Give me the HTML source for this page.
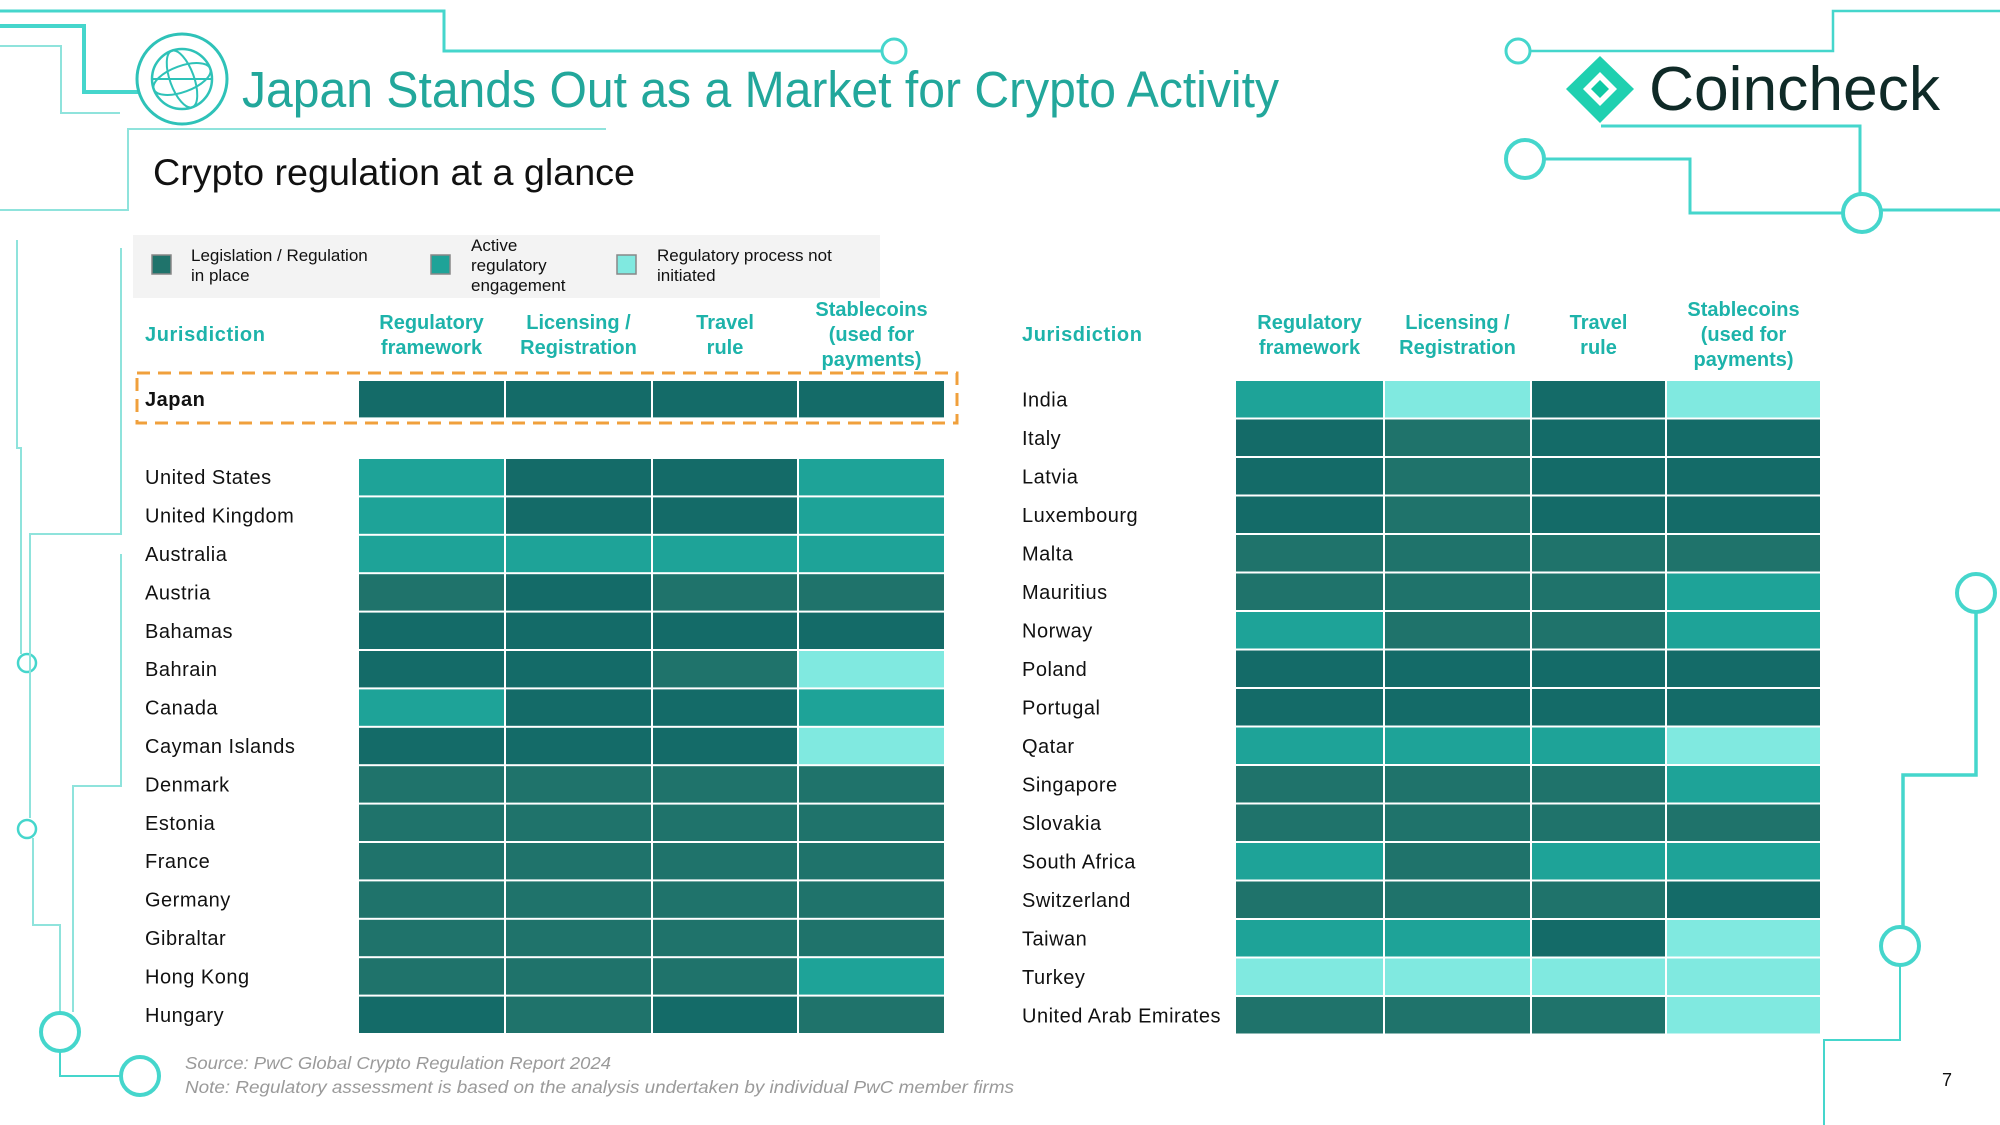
<!DOCTYPE html>
<html><head><meta charset="utf-8"><style>
html,body{margin:0;padding:0;background:#fff;}
svg{display:block;font-family:"Liberation Sans",sans-serif;}
</style></head><body>
<svg id="root" width="2000" height="1125" viewBox="0 0 2000 1125" xmlns="http://www.w3.org/2000/svg">
<g fill="none" stroke="#45d6cc" stroke-width="3">
  <polyline points="0,11 444,11 444,51 882,51"/>
  <circle cx="894" cy="51" r="12" fill="#fff"/>
  <polyline points="0,26 84,26 84,92 138,92" stroke-width="4"/>
  <polyline points="0,46 61,46 61,113 120,113" stroke="#8fe3dc" stroke-width="2"/>
  <polyline points="606,129 128,129 128,210 0,210" stroke="#8fe3dc" stroke-width="2"/>
  <polyline points="17,240 17,448 21,448 21,654" stroke="#8fe3dc" stroke-width="2"/>
  <circle cx="27" cy="663" r="9" fill="#fff" stroke-width="2.5"/>
  <polyline points="121,248 121,534 30,534 30,818" stroke="#8fe3dc" stroke-width="2"/>
  <circle cx="27" cy="829" r="9" fill="#fff" stroke-width="2.5"/>
  <polyline points="33,838 33,925 60,925 60,1012" stroke="#8fe3dc" stroke-width="2"/>
  <polyline points="121,554 121,786 73,786 73,1012" stroke="#8fe3dc" stroke-width="2"/>
  <circle cx="60" cy="1032" r="19" fill="#fff" stroke-width="4"/>
  <polyline points="60,1051 60,1076 121,1076" stroke-width="2"/>
  <circle cx="140" cy="1076" r="19" fill="#fff" stroke-width="4"/>
  <polyline points="1530,51 1833,51 1833,11 2000,11" stroke-width="2.5"/>
  <circle cx="1518" cy="51" r="12" fill="#fff" stroke-width="3"/>
  <polyline points="1601,126 1860,126 1860,194" stroke-width="3"/>
  <circle cx="1862" cy="213" r="19" fill="#fff" stroke-width="4"/>
  <polyline points="1881,210 2000,210" stroke-width="3"/>
  <polyline points="1544,159 1690,159 1690,213 1843,213" stroke-width="3"/>
  <circle cx="1525" cy="159" r="19" fill="#fff" stroke-width="4"/>
  <circle cx="1976" cy="593" r="19" fill="#fff" stroke-width="4"/>
  <polyline points="1976,612 1976,775 1903,775 1903,927" stroke-width="3.5"/>
  <circle cx="1900" cy="946" r="19" fill="#fff" stroke-width="4"/>
  <polyline points="1900,965 1900,1040 1824,1040 1824,1125" stroke-width="2"/>
</g>
<g fill="none" stroke="#2ec2b8" stroke-width="3">
  <circle cx="182" cy="79" r="45"/>
  <circle cx="182" cy="79" r="30" stroke-width="2.5"/>
  <ellipse cx="182" cy="79" rx="30" ry="13" transform="rotate(-20 182 79)" stroke-width="2"/>
  <ellipse cx="182" cy="79" rx="12" ry="30" transform="rotate(-20 182 79)" stroke-width="2"/>
  <line x1="152" y1="79" x2="212" y2="79" stroke-width="2"/>
</g>
<text x="242" y="107" font-size="51" fill="#22a79b" textLength="1037" lengthAdjust="spacingAndGlyphs">Japan Stands Out as a Market for Crypto Activity</text>
<text x="153" y="185" font-size="37" fill="#111" textLength="482" lengthAdjust="spacingAndGlyphs">Crypto regulation at a glance</text>
<g>
  <polygon points="1600,56 1634,89 1600,123 1566,89" fill="#1fd0b0"/>
  <polygon points="1600,72 1617,89 1600,106 1583,89" fill="#fff"/>
  <polygon points="1600,80 1609,89 1600,98 1591,89" fill="#0fc9a5"/>
  <text x="1649" y="110" font-size="62" fill="#0f2a27" textLength="291" lengthAdjust="spacingAndGlyphs">Coincheck</text>
</g>
<g>
  <rect x="133" y="235" width="747" height="63" fill="#f3f3f3"/>
  <g>
    <rect x="152" y="255" width="19" height="19" fill="#1f736b" stroke="#888" stroke-width="1.5"/>
    <text x="191" y="261" font-size="17" fill="#111">Legislation / Regulation</text>
    <text x="191" y="281" font-size="17" fill="#111">in place</text>
  </g>
  <g>
    <rect x="431" y="255" width="19" height="19" fill="#1ea398" stroke="#888" stroke-width="1.5"/>
    <text x="471" y="251" font-size="17" fill="#111">Active</text>
    <text x="471" y="271" font-size="17" fill="#111">regulatory</text>
    <text x="471" y="291" font-size="17" fill="#111">engagement</text>
  </g>
  <g>
    <rect x="617" y="255" width="19" height="19" fill="#80e9e0" stroke="#888" stroke-width="1.5"/>
    <text x="657" y="261" font-size="17" fill="#111">Regulatory process not</text>
    <text x="657" y="281" font-size="17" fill="#111">initiated</text>
  </g>
</g>
<rect x="137" y="373" width="820" height="50" fill="none" stroke="#f0a03c" stroke-width="3" stroke-dasharray="13,8"/>
<g id="tables"></g>
<text x="185" y="1069" font-size="17.5" font-style="italic" fill="#9a9a9a" textLength="426" lengthAdjust="spacingAndGlyphs">Source: PwC Global Crypto Regulation Report 2024</text>
<text x="185" y="1093" font-size="17.5" font-style="italic" fill="#9a9a9a" textLength="829" lengthAdjust="spacingAndGlyphs">Note: Regulatory assessment is based on the analysis undertaken by individual PwC member firms</text>
<text x="1942" y="1086" font-size="18" fill="#111">7</text>
</svg>
<script>
// 0 = legislation in place (dark), 1 = legislation in place (alt shade), 2 = active engagement, 3 = not initiated
const columns = ["Regulatory framework", "Licensing / Registration", "Travel rule", "Stablecoins (used for payments)"];
const leftCountries = ["Japan","United States","United Kingdom","Australia","Austria","Bahamas","Bahrain","Canada","Cayman Islands","Denmark","Estonia","France","Germany","Gibraltar","Hong Kong","Hungary"];
const leftValues = [[0,0,0,0],[2,0,0,2],[2,0,0,2],[2,2,2,2],[1,0,1,1],[0,0,0,0],[0,0,1,3],[2,0,0,2],[0,0,0,3],[1,1,1,1],[1,1,1,1],[1,1,1,1],[1,1,1,1],[1,1,1,1],[1,1,1,2],[0,1,0,1]];
const rightCountries = ["India","Italy","Latvia","Luxembourg","Malta","Mauritius","Norway","Poland","Portugal","Qatar","Singapore","Slovakia","South Africa","Switzerland","Taiwan","Turkey","United Arab Emirates"];
const rightValues = [[2,3,0,3],[0,1,0,0],[0,1,0,0],[0,1,0,0],[1,1,1,1],[1,1,1,2],[2,1,1,2],[0,0,0,0],[0,0,0,0],[2,2,2,3],[1,1,1,2],[1,1,1,1],[2,1,2,2],[1,1,1,0],[2,2,0,3],[3,3,3,3],[1,1,1,3]];
const palette = ["#146b68","#1f736b","#1ea398","#80e9e0"];

const NS = "http://www.w3.org/2000/svg";
const g = document.getElementById("tables");
function mk(tag, attrs, parent){ const e=document.createElementNS(NS,tag); for(const k in attrs) e.setAttribute(k,attrs[k]); (parent||g).appendChild(e); return e; }

function drawTable(name, countries, values, opt){
  const tg = mk("g", {});
  
  
  const colX = c => opt.colEdges[c];
  const rowY = r => opt.rowY(r);
  const jh = mk("text",{x:opt.labelX,y:341,"font-size":20,"font-weight":"bold",fill:"#1db3aa","letter-spacing":0.6},tg);
  jh.textContent = "Jurisdiction";
  
  
  const headerLines = [["Regulatory","framework"],["Licensing /","Registration"],["Travel","rule"],["Stablecoins","(used for","payments)"]];
  columns.forEach((col,c)=>{
    const cx = (colX(c)+colX(c+1))/2;
    const lines = headerLines[c];
    const t = mk("text",{x:cx,"font-size":20,"font-weight":"bold",fill:"#1db3aa","text-anchor":"middle"},tg);
    
    
    const y0 = lines.length===3 ? 316 : 329;
    lines.forEach((ln,i)=>{ const s=mk("tspan",{x:cx,y:y0+i*25},t); s.textContent=ln; });
  });
  countries.forEach((name2,r)=>{
    const y = rowY(r);
    const lab = mk("text",{x:opt.labelX,y:y+opt.rowH/2+7,"font-size":20,fill:"#111","letter-spacing":0.5,"font-weight":(name2==="Japan"?"bold":"normal")},tg);
    lab.textContent = name2;
    
    
    values[r].forEach((v,c)=>{
      const cell = mk("rect",{x:colX(c)+1,y:y+1,width:colX(c+1)-colX(c)-2,height:opt.rowH-2,fill:palette[v]},tg);
      
      
    });
  });
}
drawTable("left-regulation-table", leftCountries, leftValues, {
  labelX:145, colEdges:[358,505,652,798,945], rowH:38.4,
  rowY: r => r===0 ? 380 : 458 + (r-1)*38.4
});
drawTable("right-regulation-table", rightCountries, rightValues, {
  labelX:1022, colEdges:[1235,1384,1531,1666,1821], rowH:38.5,
  rowY: r => 380 + r*38.5
});
</script>
</body></html>
